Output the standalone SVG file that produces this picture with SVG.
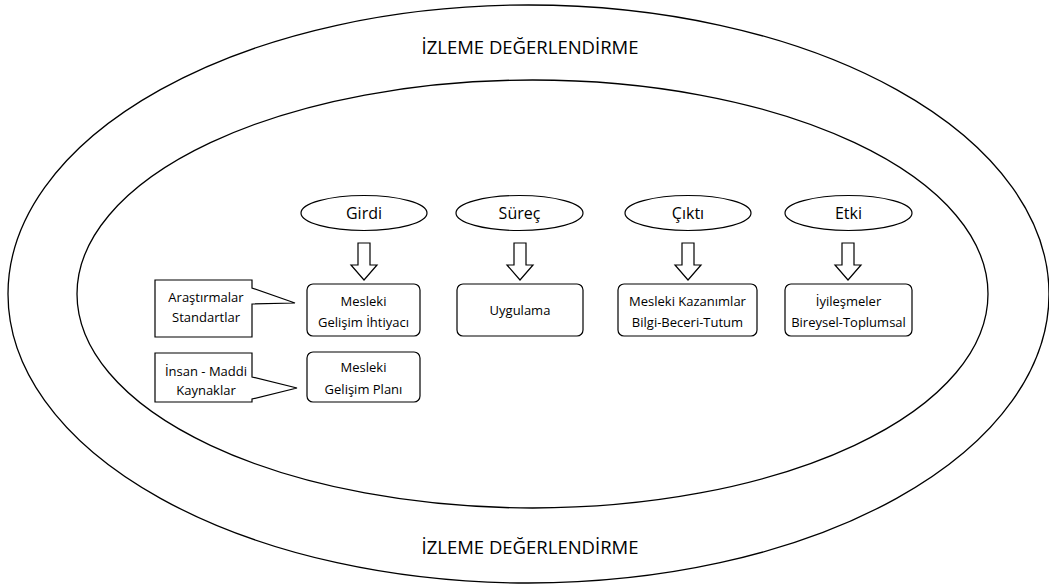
<svg xmlns="http://www.w3.org/2000/svg" width="1049" height="588" viewBox="0 0 1049 588">
<style>
.ln{fill:none;stroke:#000;stroke-width:1.3}
.sh{fill:#fff;stroke:#000;stroke-width:1.2}
.t{font-family:"Open Sans","Liberation Sans",sans-serif;fill:#000;text-anchor:middle}
.big{font-size:18.5px}
.el{font-size:16px}
.bx{font-size:13px}
</style>
<rect width="1049" height="588" fill="#fff"/>
<g id="outer-ring">
<ellipse class="ln" cx="528.5" cy="294" rx="520.5" ry="289"/>
<text class="t big" x="530" y="54">İZLEME DEĞERLENDİRME</text>
<text class="t big" x="530" y="554">İZLEME DEĞERLENDİRME</text>
</g>
<g id="inner-ring">
<ellipse class="ln" cx="532.5" cy="294" rx="455.5" ry="214"/>
</g>
<g id="girdi"><ellipse class="sh" cx="364" cy="213" rx="63" ry="17.5"/><text class="t el" x="364" y="219">Girdi</text></g>
<g id="surec"><ellipse class="sh" cx="519.5" cy="213" rx="63.5" ry="17.5"/><text class="t el" x="519.5" y="219">Süreç</text></g>
<g id="cikti"><ellipse class="sh" cx="688" cy="213" rx="63" ry="17.5"/><text class="t el" x="688" y="219">Çıktı</text></g>
<g id="etki"><ellipse class="sh" cx="848.5" cy="213" rx="63.5" ry="17.5"/><text class="t el" x="848.5" y="219">Etki</text></g>
<g id="connectors">
<polygon class="sh" points="358,243 370,243 370,265 377,265 364,280 351,265 358,265"/>
<polygon class="sh" points="514,243 526,243 526,265 533,265 520,280 507,265 514,265"/>
<polygon class="sh" points="682,243 694,243 694,265 701,265 688,280 675,265 682,265"/>
<polygon class="sh" points="842,243 854,243 854,265 861,265 848,280 835,265 842,265"/>
</g>
<g id="ihtiyac"><rect class="sh" x="307" y="284" width="113" height="52" rx="6"/><text class="t bx" x="363.5" y="306">Mesleki</text><text class="t bx" x="363.5" y="327">Gelişim İhtiyacı</text></g>
<g id="plan"><rect class="sh" x="307" y="352" width="113" height="50" rx="6"/><text class="t bx" x="363.5" y="372">Mesleki</text><text class="t bx" x="363.5" y="394">Gelişim Planı</text></g>
<g id="uygulama"><rect class="sh" x="457" y="284" width="126" height="52" rx="6"/><text class="t bx" x="520" y="315">Uygulama</text></g>
<g id="kazanim"><rect class="sh" x="618" y="284" width="139" height="52" rx="6"/><text class="t bx" x="687.5" y="306">Mesleki Kazanımlar</text><text class="t bx" x="687.5" y="327">Bilgi-Beceri-Tutum</text></g>
<g id="iyilesme"><rect class="sh" x="785" y="284" width="127" height="52" rx="6"/><text class="t bx" x="848.5" y="306">İyileşmeler</text><text class="t bx" x="848.5" y="327">Bireysel-Toplumsal</text></g>
<g id="arastirma"><path class="sh" d="M155,280 H252 V288 L295,303 L252,304 V337 H155 Z"/><text class="t bx" x="206" y="302">Araştırmalar</text><text class="t bx" x="206" y="322">Standartlar</text></g>
<g id="kaynak"><path class="sh" d="M155,353 H252 V377 L297,388 L252,399 V402 H155 Z"/><text class="t bx" x="206" y="376">İnsan - Maddi</text><text class="t bx" x="206" y="395">Kaynaklar</text></g>
</svg>
